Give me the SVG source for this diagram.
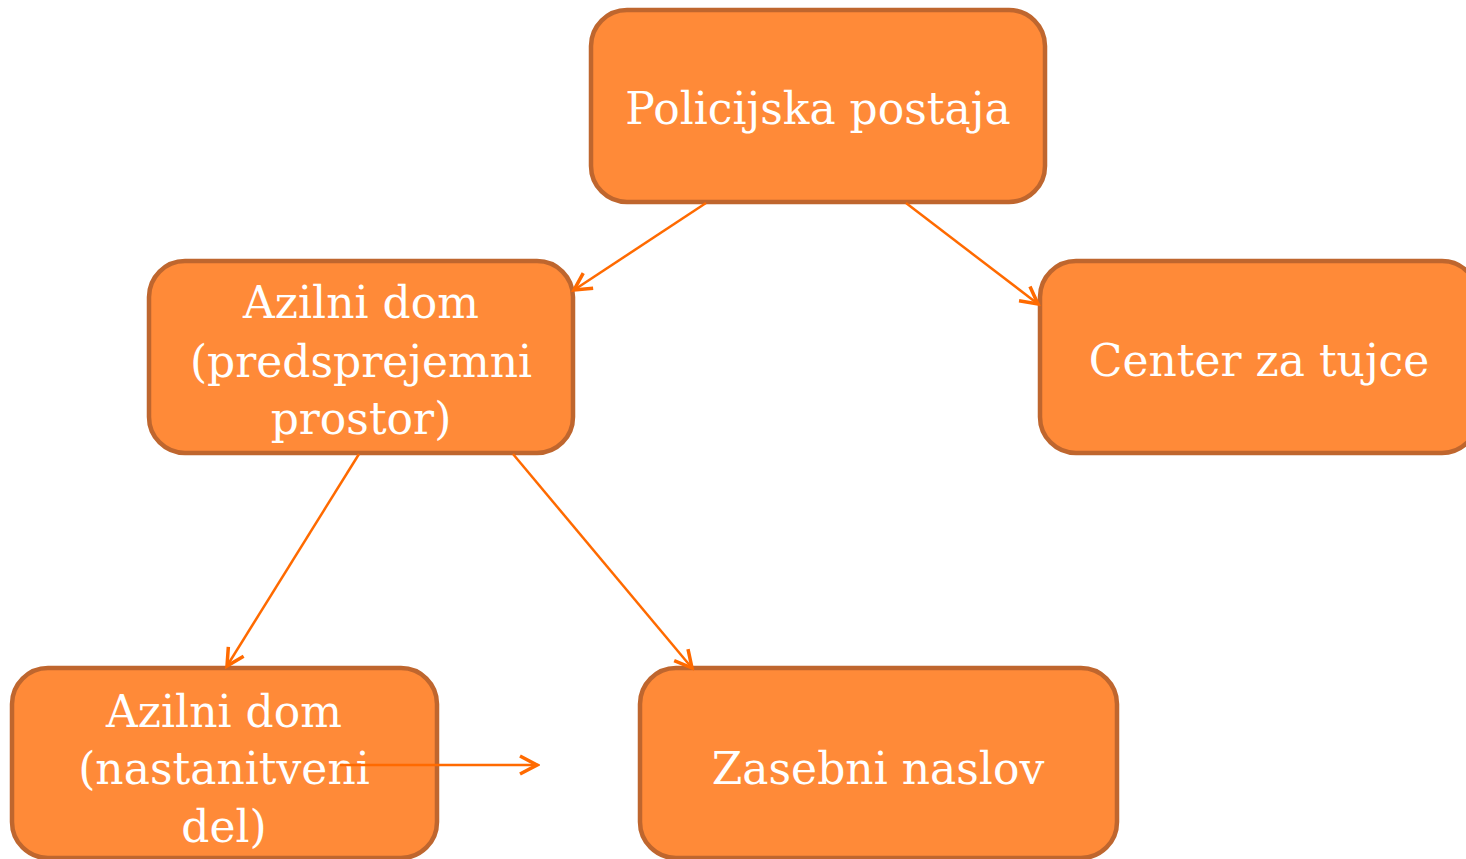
<svg xmlns="http://www.w3.org/2000/svg" width="1466" height="859" viewBox="0 0 1466 859">
<style>
.box{fill:#FF8A38;stroke:#BF662E;stroke-width:4.5}
.t{font-family:"DejaVu Serif","Liberation Serif",serif;font-size:44px;fill:#FFFFFF;text-anchor:middle}
.c{stroke:#FF6A00;stroke-width:2.5;fill:none;marker-end:url(#ah)}
</style>
<defs>
<marker id="ah" viewBox="0 0 24 24" refX="21" refY="12" markerWidth="24" markerHeight="24" markerUnits="userSpaceOnUse" orient="auto">
<path d="M4,3 L21,12 L4,21" fill="none" stroke="#FF6A00" stroke-width="3.5"/>
</marker>
</defs>
<rect width="1466" height="859" fill="#FFFFFF"/>
<g id="n-policijska">
<rect class="box" x="591" y="10" width="454" height="192" rx="36"/>
<text class="t" x="818" y="124">Policijska postaja</text>
</g>
<g id="n-azilni-pred">
<rect class="box" x="149" y="261" width="424" height="192" rx="36"/>
<text class="t" x="361" y="318">Azilni dom</text>
<text class="t" x="361" y="377">(predsprejemni</text>
<text class="t" x="361" y="434">prostor)</text>
</g>
<g id="n-center">
<rect class="box" x="1040" y="261" width="438" height="192" rx="36"/>
<text class="t" x="1259" y="376">Center za tujce</text>
</g>
<g id="n-azilni-nast">
<rect class="box" x="12" y="668" width="425" height="190" rx="36"/>
<text class="t" x="224" y="727">Azilni dom</text>
<text class="t" x="224" y="784">(nastanitveni</text>
<text class="t" x="224" y="842">del)</text>
</g>
<g id="n-zasebni">
<rect class="box" x="640" y="668" width="477" height="190" rx="36"/>
<text class="t" x="878" y="784">Zasebni naslov</text>
</g>
<g id="connectors">
<line class="c" x1="706" y1="203" x2="574" y2="290"/>
<line class="c" x1="906" y1="203" x2="1038" y2="304"/>
<line class="c" x1="359" y1="454" x2="227" y2="666"/>
<line class="c" x1="513" y1="454" x2="692" y2="668"/>
<line class="c" x1="340" y1="765" x2="537" y2="765"/>
</g>
</svg>
